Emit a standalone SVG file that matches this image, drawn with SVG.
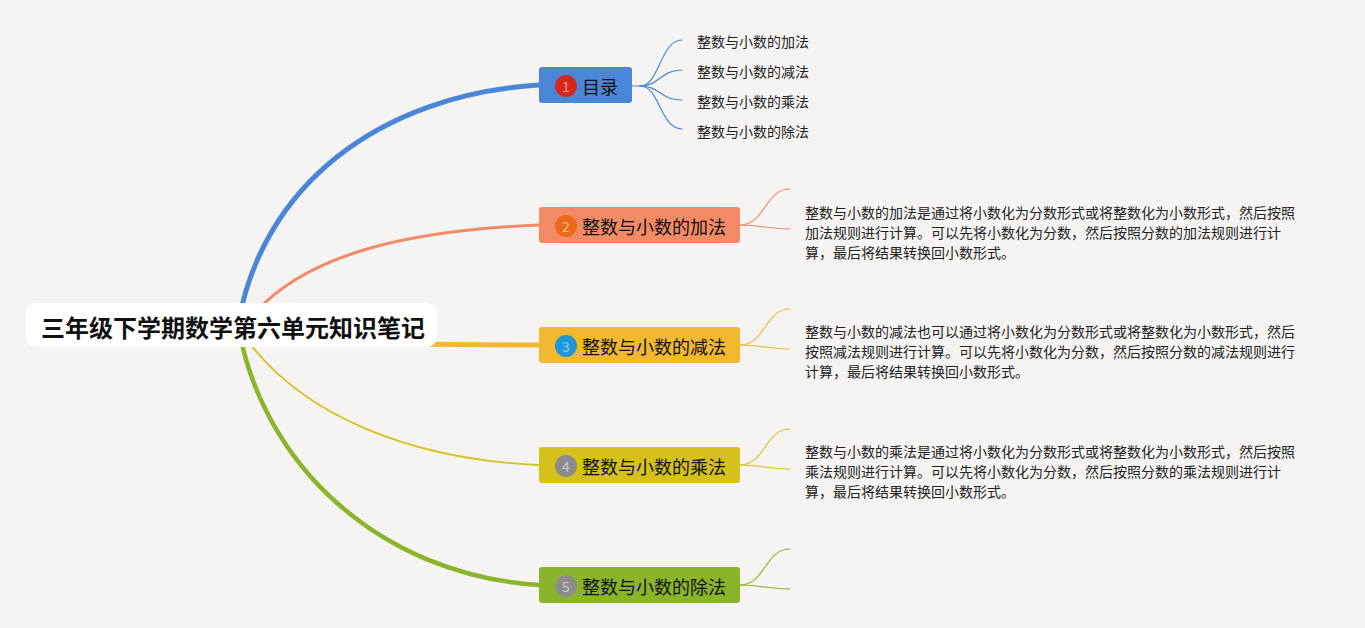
<svg xmlns="http://www.w3.org/2000/svg" width="1365" height="628" viewBox="0 0 1365 628">
<style>
.cjk{font-family:"Noto Sans CJK SC","Noto Sans",sans-serif;}
.root{font-size:24px;font-weight:bold;fill:#111;}
.nt{font-size:18px;fill:#111;}
.num{font-size:14px;fill:#fff;fill-opacity:0.55;}
.leaf{font-size:14px;fill:#222;}
.desc{font-size:14px;fill:#222;}
.sub{fill:none;stroke-width:1.2;}
</style>
<rect width="1365" height="628" fill="#f5f4f2"/>
<g id="connectors" fill="none" stroke-linecap="round">
  <path d="M238,325 C262,185 380,95 539,85" stroke="#4a86d8" stroke-width="5"/>
  <path d="M245,325 C300,250 420,230 539,225" stroke="#f28a66" stroke-width="3"/>
  <path d="M240,340 C350,343 450,345 539,345" stroke="#f2b830" stroke-width="5"/>
  <path d="M240,330 C300,420 420,460 539,465" stroke="#d6c11c" stroke-width="1.8"/>
  <path d="M238,325 C262,465 380,575 539,585" stroke="#8ab52a" stroke-width="4.5"/>
  <g class="sub" stroke="#4a86d8">
    <path d="M632,86 L640,86 C660,86 660,40 682,40"/>
    <path d="M640,86 C660,86 660,70 682,70"/>
    <path d="M640,86 C660,86 660,100 682,100"/>
    <path d="M640,86 C660,86 660,129 682,129"/>
  </g>
  <g class="sub" stroke="#f28a66">
    <path d="M740,225 C765,225 765,189 790,189"/>
    <path d="M740,225 C765,225 765,229 790,229"/>
  </g>
  <g class="sub" stroke="#f2b830">
    <path d="M740,345 C765,345 765,309 790,309"/>
    <path d="M740,345 C765,345 765,349 790,349"/>
  </g>
  <g class="sub" stroke="#d6c11c">
    <path d="M740,465 C765,465 765,429 790,429"/>
    <path d="M740,465 C765,465 765,469 790,469"/>
  </g>
  <g class="sub" stroke="#8ab52a">
    <path d="M740,585 C765,585 765,549 790,549"/>
    <path d="M740,585 C765,585 765,589 790,589"/>
  </g>
</g>
<g id="root">
  <rect x="26" y="303" width="411" height="44" rx="10" fill="#ffffff"/>
  <text class="cjk root" x="233" y="326" text-anchor="middle" dominant-baseline="central">三年级下学期数学第六单元知识笔记</text>
</g>
<g id="node1">
  <rect x="539" y="67" width="93" height="36" rx="3" fill="#4a86d8"/>
  <circle cx="566" cy="86" r="11" fill="#d9261c"/>
  <text class="cjk num" x="566" y="86" text-anchor="middle" dominant-baseline="central">1</text>
  <text class="cjk nt" x="582" y="86" dominant-baseline="central">目录</text>
</g>
<g id="leaf1-1"><text class="cjk leaf" x="697" y="41" dominant-baseline="central">整数与小数的加法</text></g>
<g id="leaf1-2"><text class="cjk leaf" x="697" y="71" dominant-baseline="central">整数与小数的减法</text></g>
<g id="leaf1-3"><text class="cjk leaf" x="697" y="101" dominant-baseline="central">整数与小数的乘法</text></g>
<g id="leaf1-4"><text class="cjk leaf" x="697" y="131" dominant-baseline="central">整数与小数的除法</text></g>
<g id="node2">
  <rect x="539" y="207" width="201" height="36" rx="3" fill="#f28a66"/>
  <circle cx="566" cy="226" r="11" fill="#ea6a1a"/>
  <text class="cjk num" x="566" y="226" text-anchor="middle" dominant-baseline="central">2</text>
  <text class="cjk nt" x="582" y="226" dominant-baseline="central">整数与小数的加法</text>
</g>
<g id="desc2">
  <text class="cjk desc" x="805" y="212" dominant-baseline="central">整数与小数的加法是通过将小数化为分数形式或将整数化为小数形式，然后按照</text>
  <text class="cjk desc" x="805" y="232" dominant-baseline="central">加法规则进行计算。可以先将小数化为分数，然后按照分数的加法规则进行计</text>
  <text class="cjk desc" x="805" y="252" dominant-baseline="central">算，最后将结果转换回小数形式。</text>
</g>
<g id="node3">
  <rect x="539" y="327" width="201" height="36" rx="3" fill="#f2b830"/>
  <circle cx="566" cy="346" r="11" fill="#1e96d8"/>
  <text class="cjk num" x="566" y="346" text-anchor="middle" dominant-baseline="central">3</text>
  <text class="cjk nt" x="582" y="346" dominant-baseline="central">整数与小数的减法</text>
</g>
<g id="desc3">
  <text class="cjk desc" x="805" y="331" dominant-baseline="central">整数与小数的减法也可以通过将小数化为分数形式或将整数化为小数形式，然后</text>
  <text class="cjk desc" x="805" y="351" dominant-baseline="central">按照减法规则进行计算。可以先将小数化为分数，然后按照分数的减法规则进行</text>
  <text class="cjk desc" x="805" y="371" dominant-baseline="central">计算，最后将结果转换回小数形式。</text>
</g>
<g id="node4">
  <rect x="539" y="447" width="201" height="36" rx="3" fill="#d6c11c"/>
  <circle cx="566" cy="466" r="11" fill="#8c8c8c"/>
  <text class="cjk num" x="566" y="466" text-anchor="middle" dominant-baseline="central">4</text>
  <text class="cjk nt" x="582" y="466" dominant-baseline="central">整数与小数的乘法</text>
</g>
<g id="desc4">
  <text class="cjk desc" x="805" y="451" dominant-baseline="central">整数与小数的乘法是通过将小数化为分数形式或将整数化为小数形式，然后按照</text>
  <text class="cjk desc" x="805" y="471" dominant-baseline="central">乘法规则进行计算。可以先将小数化为分数，然后按照分数的乘法规则进行计</text>
  <text class="cjk desc" x="805" y="491" dominant-baseline="central">算，最后将结果转换回小数形式。</text>
</g>
<g id="node5">
  <rect x="539" y="567" width="201" height="36" rx="3" fill="#8ab52a"/>
  <circle cx="566" cy="586" r="11" fill="#8c8c8c"/>
  <text class="cjk num" x="566" y="586" text-anchor="middle" dominant-baseline="central">5</text>
  <text class="cjk nt" x="582" y="586" dominant-baseline="central">整数与小数的除法</text>
</g>
</svg>
